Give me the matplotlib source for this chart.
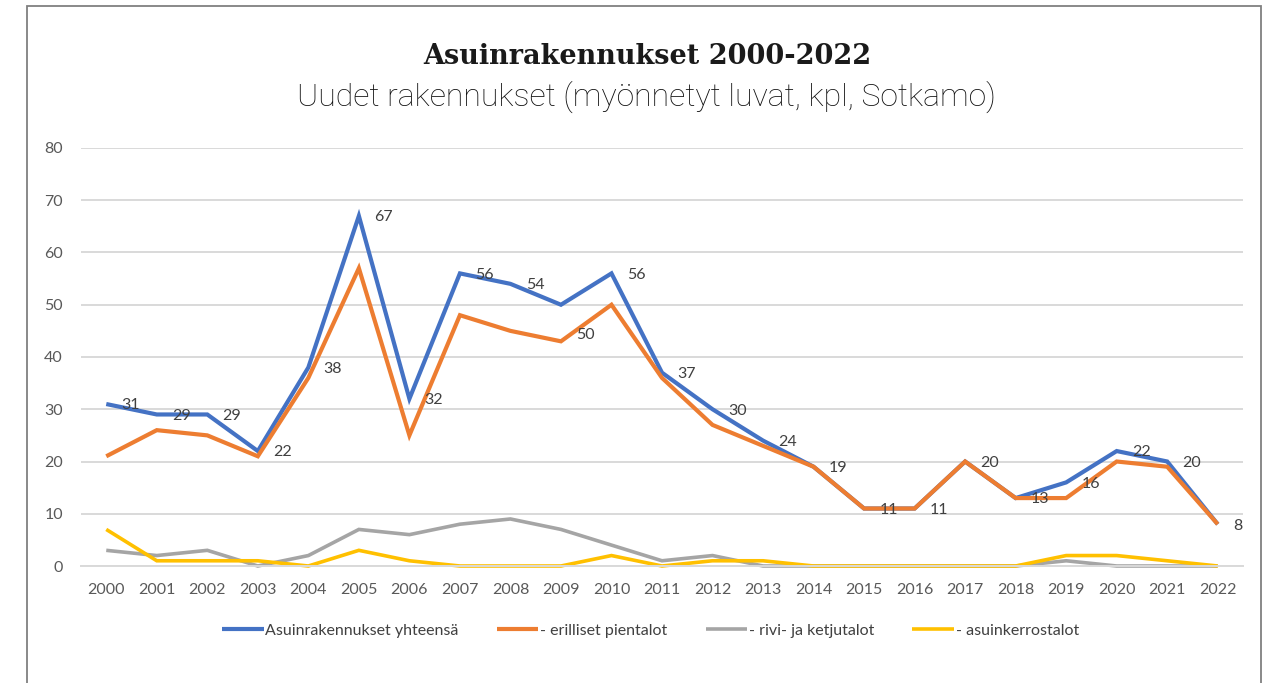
import matplotlib
matplotlib.use("Agg")
import matplotlib.pyplot as plt
from matplotlib.patches import Rectangle

years = [str(y) for y in range(2000, 2023)]
total = [31, 29, 29, 22, 38, 67, 32, 56, 54, 50, 56, 37, 30, 24, 19, 11, 11, 20, 13, 16, 22, 20, 8]
erilliset = [21, 26, 25, 21, 36, 57, 25, 48, 45, 43, 50, 36, 27, 23, 19, 11, 11, 20, 13, 13, 20, 19, 8]
rivi = [3, 2, 3, 0, 2, 7, 6, 8, 9, 7, 4, 1, 2, 0, 0, 0, 0, 0, 0, 1, 0, 0, 0]
kerros = [7, 1, 1, 1, 0, 3, 1, 0, 0, 0, 2, 0, 1, 1, 0, 0, 0, 0, 0, 2, 2, 1, 0]
series_names = ["Asuinrakennukset yhteensä", "- erilliset pientalot",
                "- rivi- ja ketjutalot", "- asuinkerrostalot"]
yticks = [0, 10, 20, 30, 40, 50, 60, 70, 80]

colors = ["#4472C4", "#ED7D31", "#A5A5A5", "#FFC000"]
txt_font = ["Lato", "DejaVu Sans"]

W, H = 1281, 683
fig = plt.figure(figsize=(W / 100, H / 100), dpi=100)
fig.patch.set_facecolor("white")

# outer frame
fig.add_artist(Rectangle((27 / W, -0.05), (1261 - 27) / W, 1 - 6 / H + 0.05,
                         transform=fig.transFigure, fill=False,
                         edgecolor="#808080", linewidth=1.3))

ax = fig.add_axes([81 / W, 1 - 566 / H, (1243 - 81) / W, (566 - 148) / H])
x = list(range(len(years)))
for vals, name, c, lw in zip([total, erilliset, rivi, kerros], series_names, colors,
                             [3.0, 3.0, 2.6, 2.6]):
    ax.plot(x, vals, color=c, linewidth=lw, label=name, solid_joinstyle="miter",
            solid_capstyle="butt", clip_on=False)

for i, v in enumerate(total):
    dy = -22 if years[i] == "2009" else -1
    ax.annotate(str(v), (i, v), xytext=(11, dy), textcoords="offset points",
                ha="left", va="center", fontsize=11.5, color="#404040",
                family=txt_font)

ax.set_xlim(-0.5, len(years) - 0.5)
ax.set_ylim(0, 80)
ax.set_yticks(yticks)
ax.set_xticks(x)
ax.set_xticklabels(years)
ax.tick_params(axis="both", length=0, labelsize=11.5, labelcolor="#595959")
ax.tick_params(axis="x", pad=12)
ax.tick_params(axis="y", pad=13)
for lab in ax.get_xticklabels() + ax.get_yticklabels():
    lab.set_family(txt_font)
ax.grid(axis="y", color="#D9D9D9", linewidth=1.4)
ax.set_axisbelow(True)
for s in ["top", "right", "left"]:
    ax.spines[s].set_visible(False)
ax.spines["bottom"].set_color("#D9D9D9")
ax.spines["bottom"].set_linewidth(1.4)

leg = ax.legend(loc="center", bbox_to_anchor=(0.49, (631 - 566) / -(566 - 148)),
                ncol=4, frameon=False, handlelength=2.6, handletextpad=0.1,
                columnspacing=2.4, prop={"family": txt_font, "size": 11.5})
for t in leg.get_texts():
    t.set_color("#404040")

fig.text(0.505, 1 - 57 / H, "Asuinrakennukset 2000-2022", ha="center", va="center",
         fontsize=19.5, fontweight="bold", family="DejaVu Serif", color="#1A1A1A")
fig.text(0.505, 1 - 97 / H, "Uudet rakennukset (myönnetyt luvat, kpl, Sotkamo)",
         ha="center", va="center", fontsize=23, fontweight="light", family="Roboto",
         color="#111111")

fig.savefig("out.png", dpi=100, facecolor="white")
